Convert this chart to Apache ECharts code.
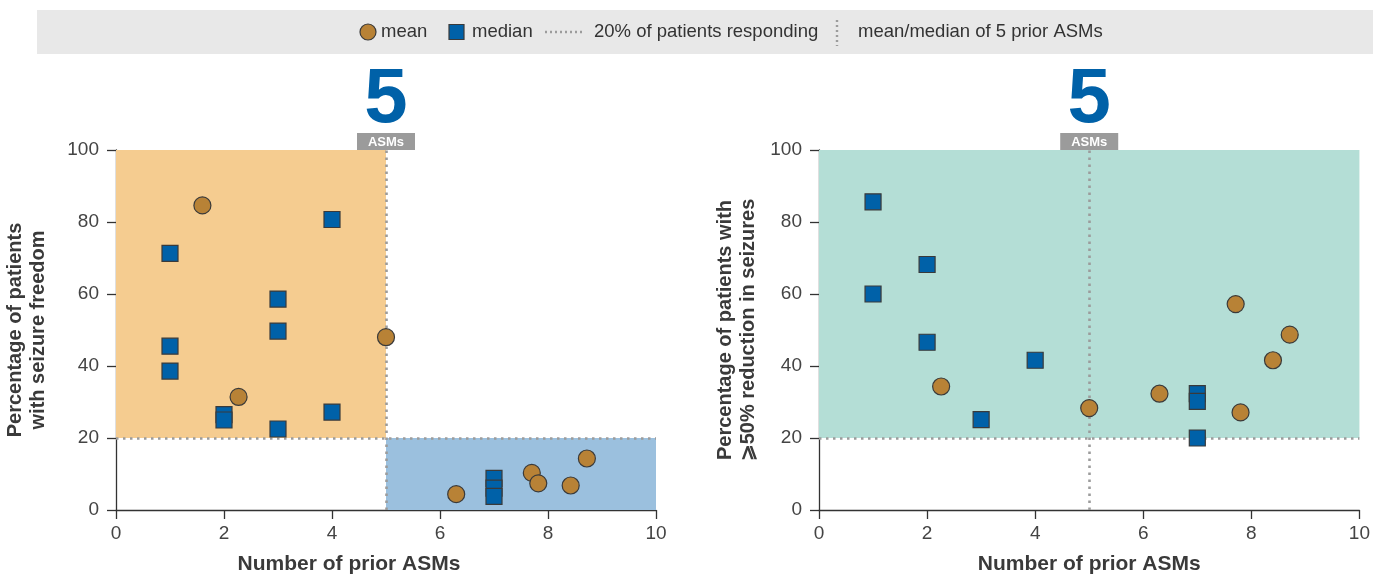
<!DOCTYPE html>
<html>
<head>
<meta charset="utf-8">
<script src="https://cdn.jsdelivr.net/npm/echarts@6/dist/echarts.min.js"></script>
<style>
html,body{margin:0;padding:0;background:#fff;}
#c{width:1373px;height:581px;}
</style>
</head>
<body>
<div id="c"></div>
<script>
// ---- data ----
var xTicks = [0, 2, 4, 6, 8, 10];
var yTicks = [0, 20, 40, 60, 80, 100];
var threshold = 20;
var priorASMs = 5;

// Left panel: seizure freedom
var leftMean = [[1.6, 84.6], [2.27, 31.4], [5.0, 48.0], [6.3, 4.4], [7.7, 10.3], [7.82, 7.4], [8.42, 6.8], [8.72, 14.3]];
var leftMedian = [[1, 71.3], [1, 45.5], [1, 38.6], [2, 26.5], [2, 25.0], [3, 58.6], [3, 49.7], [3, 22.5], [4, 80.7], [4, 27.2], [7, 8.8], [7, 6.1], [7, 3.8]];

// Right panel: >=50% reduction in seizures
var rightMean = [[2.26, 34.3], [5.0, 28.3], [6.3, 32.3], [7.71, 57.2], [7.8, 27.1], [8.4, 41.6], [8.71, 48.7]];
var rightMedian = [[1, 85.6], [1, 60.0], [2, 68.2], [2, 46.6], [3, 25.1], [4, 41.6], [7, 32.3], [7, 30.2], [7, 20.0]];

var legendLabels = ['mean', 'median', '20% of patients responding', 'mean/median of 5 prior ASMs'];
var xName = 'Number of prior ASMs';
var leftYName = 'Percentage of patients\nwith seizure freedom';
var rightYName = 'Percentage of patients with\n\u2A7E50% reduction in seizures';

// ---- style ----
var FONT = 'Liberation Sans, Arial, sans-serif';
var MEAN_C = '#b88236';
var MED_C = '#0061a8';
var BORDER = '#3a3a3a';
var DOT_C = '#9c9c9c';
var DASH = [2.5, 4.5];

var chart = echarts.init(document.getElementById('c'), null, {renderer: 'canvas'});

function xAxis(gi, offsetName) {
  return {
    gridIndex: gi, type: 'value', min: 0, max: 10, interval: 2,
    name: xName, nameLocation: 'middle', nameGap: 44,
    nameTextStyle: {fontFamily: FONT, fontWeight: 'bold', fontSize: 21, color: '#3a3a3a', padding: offsetName ? [0, offsetName, 0, 0] : 0},
    axisLine: {show: true, onZero: false, lineStyle: {color: '#333', width: 1.3}},
    axisTick: {show: true, length: 9, lineStyle: {color: '#333', width: 1.3}},
    axisLabel: {fontFamily: FONT, fontSize: 19, color: '#444', margin: 14},
    splitLine: {show: false}
  };
}
function yAxis(gi, name, gap) {
  return {
    gridIndex: gi, type: 'value', min: 0, max: 100, interval: 20,
    name: name, nameLocation: 'middle', nameGap: gap, nameRotate: 90,
    nameTextStyle: {fontFamily: FONT, fontWeight: 'bold', fontSize: 20, color: '#3a3a3a', lineHeight: 23},
    axisLine: {show: true, onZero: false, lineStyle: {color: '#333', width: 1.3}},
    axisTick: {show: true, length: 9, lineStyle: {color: '#333', width: 1.3}},
    axisLabel: {fontFamily: FONT, fontSize: 19, color: '#444', margin: 17},
    splitLine: {show: false}
  };
}

function bgSeries(gi, areas, lines) {
  return {
    type: 'scatter', xAxisIndex: gi, yAxisIndex: gi, data: [], z: 1, silent: true,
    markArea: {silent: true, data: areas},
    markLine: {silent: true, symbol: 'none', label: {show: false},
      lineStyle: {color: DOT_C, type: DASH, width: 2.6}, data: lines}
  };
}
function pts(gi, name, data, sym, color) {
  return {
    name: name, type: 'scatter', xAxisIndex: gi, yAxisIndex: gi, data: data, z: 5,
    symbol: sym, symbolSize: sym === 'circle' ? 17 : 16,
    itemStyle: {color: color, borderColor: BORDER, borderWidth: 1.2, opacity: 1}
  };
}

var option = {
  animation: false,
  backgroundColor: '#ffffff',
  grid: [
    {left: 116, right: 717, top: 150, bottom: 71},
    {left: 819, right: 12, top: 150, bottom: 71}
  ],
  xAxis: [xAxis(0, 74), xAxis(1, 0)],
  yAxis: [yAxis(0, leftYName, 66), yAxis(1, rightYName, 59)],
  series: [
    bgSeries(0, [
      [{coord: [0, threshold], itemStyle: {color: '#f5cc90'}}, {coord: [priorASMs, 100]}],
      [{coord: [priorASMs, 0], itemStyle: {color: '#9bc0de'}}, {coord: [10, threshold]}]
    ], [
      [{coord: [0, threshold]}, {coord: [10, threshold]}],
      [{coord: [priorASMs, 0]}, {coord: [priorASMs, 100]}]
    ]),
    pts(0, legendLabels[1], leftMedian, 'rect', MED_C),
    pts(0, legendLabels[0], leftMean, 'circle', MEAN_C),
    bgSeries(1, [
      [{coord: [0, threshold], itemStyle: {color: '#b4ded6'}}, {coord: [10, 100]}]
    ], [
      [{coord: [0, threshold]}, {coord: [10, threshold]}],
      [{coord: [priorASMs, 0]}, {coord: [priorASMs, 100]}]
    ]),
    pts(1, legendLabels[1], rightMedian, 'rect', MED_C),
    pts(1, legendLabels[0], rightMean, 'circle', MEAN_C)
  ]
};
chart.setOption(option);

// ---- decorations: legend band and "5 ASMs" badges ----
var g = [];
g.push({type: 'rect', shape: {x: 37, y: 10, width: 1336, height: 44}, style: {fill: '#e8e8e8'}, z: 0});
var ly = 32;
var lstyle = {fontFamily: FONT, fontSize: 18.5, fill: '#333', verticalAlign: 'middle'};
g.push({type: 'circle', shape: {cx: 368, cy: ly, r: 8}, style: {fill: MEAN_C, stroke: BORDER, lineWidth: 1.2}});
g.push({type: 'text', x: 381, y: ly, style: Object.assign({text: legendLabels[0]}, lstyle)});
g.push({type: 'rect', shape: {x: 449, y: ly - 7.5, width: 15, height: 15}, style: {fill: MED_C, stroke: BORDER, lineWidth: 1.2}});
g.push({type: 'text', x: 472, y: ly, style: Object.assign({text: legendLabels[1]}, lstyle)});
g.push({type: 'line', shape: {x1: 545, y1: ly, x2: 584, y2: ly}, style: {stroke: DOT_C, lineWidth: 2.4, lineDash: [2, 3]}});
g.push({type: 'text', x: 594, y: ly, style: Object.assign({text: legendLabels[2]}, lstyle)});
g.push({type: 'line', shape: {x1: 837, y1: 20, x2: 837, y2: 46}, style: {stroke: DOT_C, lineWidth: 2.4, lineDash: [2, 3]}});
g.push({type: 'text', x: 858, y: ly, style: Object.assign({text: legendLabels[3]}, lstyle)});

[0, 1].forEach(function (gi) {
  var p = chart.convertToPixel({gridIndex: gi}, [priorASMs, 100]);
  g.push({type: 'text', x: p[0], y: p[1] - 11, style: {text: String(priorASMs), fontFamily: FONT, fontWeight: 'bold', fontSize: 78, fill: '#0061a8', align: 'center', verticalAlign: 'bottom'}, z: 10});
  g.push({type: 'rect', shape: {x: p[0] - 29, y: p[1] - 17, width: 58, height: 17}, style: {fill: '#9b9b9b'}, z: 10});
  g.push({type: 'text', x: p[0], y: p[1] - 8, style: {text: 'ASMs', fontFamily: FONT, fontWeight: 'bold', fontSize: 13, fill: '#ffffff', align: 'center', verticalAlign: 'middle'}, z: 11});
});
chart.setOption({graphic: g});
</script>
</body>
</html>
